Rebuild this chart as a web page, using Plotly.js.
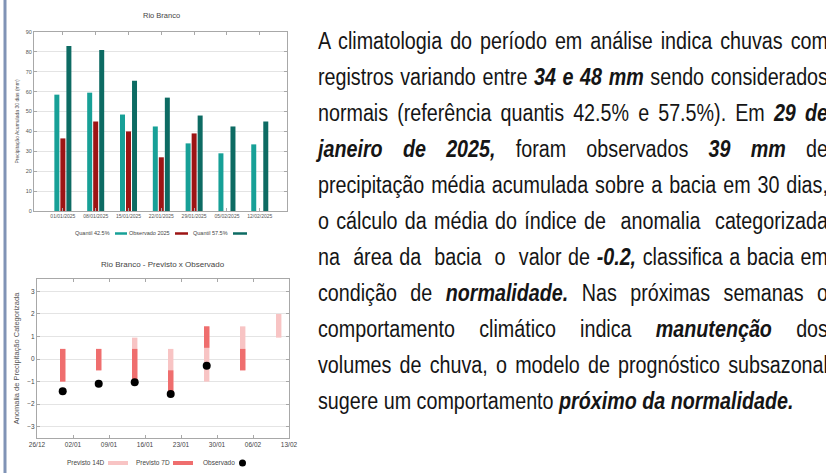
<!DOCTYPE html>
<html>
<head>
<meta charset="utf-8">
<script src="https://cdn.plot.ly/plotly-3.0.1.min.js"></script>
<style>
  html, body { margin: 0; padding: 0; background: #ffffff; width: 826px; height: 473px; overflow: hidden; }
  #chart { position: absolute; left: 0; top: 0; width: 826px; height: 473px; }
  #txt { position: absolute; left: 318px; top: 23px; width: 595px; transform: scaleX(0.857); transform-origin: 0 0;
         font-family: "Liberation Sans", Arial, sans-serif; font-size: 23px; line-height: 36px; color: #151515; }
  #txt div { text-align: justify; text-align-last: justify; white-space: nowrap; }
  #txt div.last { text-align: left; text-align-last: left; }
  #txt b { font-weight: bold; font-style: italic; }
</style>
</head>
<body>
<div id="chart"></div>
<div id="txt">
<div style="white-space:normal">A climatologia do período em análise indica chuvas com</div>
<div style="white-space:normal">registros variando entre <b>34 e 48 mm</b> sendo considerados</div>
<div style="white-space:normal">normais (referência quantis 42.5% e 57.5%). Em <b>29 de</b></div>
<div style="white-space:normal"><b>janeiro de 2025,</b> foram observados <b>39 mm</b> de</div>
<div style="white-space:normal">precipitação média acumulada sobre a bacia em 30 dias,</div>
<div style="white-space:normal">o cálculo da média do índice de&nbsp; anomalia&nbsp; categorizada</div>
<div style="white-space:normal">na&nbsp; área da&nbsp; bacia&nbsp; o&nbsp; valor de <b>-0.2,</b> classifica a bacia em</div>
<div style="white-space:normal">condição de <b>normalidade.</b> Nas próximas semanas o</div>
<div style="white-space:normal">comportamento climático indica <b>manutenção</b> dos</div>
<div style="white-space:normal">volumes de chuva, o modelo de prognóstico subsazonal</div>
<div class="last">sugere um comportamento <b>próximo da normalidade.</b></div>
</div>
<script>
// ---- Top chart data (Rio Branco) ----
const categories = ['01/01/2025','08/01/2025','15/01/2025','22/01/2025','29/01/2025','05/02/2025','12/02/2025'];
const quantil425 = [58.5, 59.5, 48.5, 42.5, 34, 29, 33.5];
const observado2025 = [36.5, 45, 40, 27, 39, null, null];
const quantil575 = [83, 81, 65.5, 57, 48, 42.5, 45];

// ---- Bottom chart data (Previsto x Observado) ----
const forecastDates = ['2024-12-31','2025-01-07','2025-01-14','2025-01-21','2025-01-28','2025-02-04','2025-02-11'];
const prev14Low  = [-1, -0.5, -1, -1.5, -1, -0.5, 0.95];
const prev14High = [0.45, 0.45, 0.95, 0.45, 1.45, 1.45, 2];
const prev7Low   = [-1, -0.5, -1, -1.5, 0.5, -0.5, null];
const prev7High  = [0.45, 0.45, 0.45, -0.5, 1.45, 0.45, null];
const observadoAnom = [-1.43, -1.1, -1.03, -1.55, -0.3, null, null];
const xTickDates = ['2024-12-26','2025-01-02','2025-01-09','2025-01-16','2025-01-23','2025-01-30','2025-02-06','2025-02-13'];
const xTickLabels = ['26/12','02/01','09/01','16/01','23/01','30/01','06/02','13/02'];

const W = 826, H = 473;
const px = v => v / W;
const py = v => 1 - v / H;
const FONT = '"Liberation Sans", Arial, sans-serif';
const C_TEAL = '#17a097', C_RED = '#9d1414', C_DARK = '#0d6b63';
const C_14 = '#f8c4c4', C_7 = '#ef6e6e';

const span = (lo, hi) => lo.map((l, i) => (l === null || hi[i] === null) ? null : hi[i] - l);
const DAY = 86400000;

const traces = [
  {type:'bar', x:categories, y:quantil425, name:'Quantil 42.5%', marker:{color:C_TEAL}, xaxis:'x', yaxis:'y', showlegend:false},
  {type:'bar', x:categories, y:observado2025, name:'Observado 2025', marker:{color:C_RED}, xaxis:'x', yaxis:'y', showlegend:false},
  {type:'bar', x:categories, y:quantil575, name:'Quantil 57.5%', marker:{color:C_DARK}, xaxis:'x', yaxis:'y', showlegend:false},
  {type:'bar', x:forecastDates, y:span(prev14Low, prev14High), base:prev14Low, width:DAY*1.05, offsetgroup:'f',
   name:'Previsto 14D', marker:{color:C_14}, xaxis:'x2', yaxis:'y2', showlegend:false},
  {type:'bar', x:forecastDates, y:span(prev7Low, prev7High), base:prev7Low, width:DAY*1.05, offsetgroup:'f',
   name:'Previsto 7D', marker:{color:C_7}, xaxis:'x2', yaxis:'y2', showlegend:false},
  {type:'scatter', mode:'markers', x:forecastDates, y:observadoAnom, name:'Observado',
   marker:{color:'#000', size:8}, xaxis:'x2', yaxis:'y2', showlegend:false}
];

const axBase = {showline:true, linecolor:'#a8a8a8', linewidth:1, mirror:'allticks', ticks:'inside', ticklen:3, tickcolor:'#a8a8a8', zeroline:false};

const ann = (x, y, text, size, opts) => Object.assign({xref:'paper', yref:'paper', x:px(x), y:py(y), text:text, showarrow:false,
  font:{family:FONT, size:size, color:'#444'}, xanchor:'center', yanchor:'middle'}, opts || {});

const layout = {
  width: W, height: H,
  margin: {l:0, r:0, t:0, b:0},
  paper_bgcolor:'#ffffff', plot_bgcolor:'#ffffff',
  font: {family: FONT, color:'#444'},
  barmode:'group', bargap:0.45, bargroupgap:0.17,
  xaxis: Object.assign({}, axBase, {type:'category', domain:[px(34), px(287)], anchor:'y', range:[-0.88, 6.83],
    showgrid:false, tickfont:{size:5, color:'#555'}}),
  yaxis: Object.assign({}, axBase, {domain:[py(211), py(32)], anchor:'x', range:[0, 90], dtick:10,
    showgrid:true, gridcolor:'#e4e4e4', tickfont:{size:5.5, color:'#555'},
    title:{text:'Precipitação Acumulada 30 dias (mm)', font:{size:5, color:'#555'}, standoff:6}}),
  xaxis2: Object.assign({}, axBase, {type:'date', domain:[px(37), px(289)], anchor:'y2', range:['2024-12-26','2025-02-13'],
    tickmode:'array', tickvals:xTickDates, ticktext:xTickLabels, showgrid:false, tickfont:{size:6.5, color:'#444'}}),
  yaxis2: Object.assign({}, axBase, {domain:[py(438), py(279)], anchor:'x2', range:[-3.5, 3.55], dtick:1,
    showgrid:true, gridcolor:'#e4e4e4', tickfont:{size:6.5, color:'#444'},
    title:{text:'Anomalia de Precipitação Categorizada', font:{size:7.5, color:'#555'}, standoff:6}}),
  shapes: [
    {type:'line', xref:'paper', yref:'paper', x0:px(5), x1:px(5), y0:0, y1:1, line:{color:'#8093b6', width:3}},
    {type:'line', xref:'paper', yref:'paper', x0:px(115), x1:px(127), y0:py(233.5), y1:py(233.5), line:{color:C_TEAL, width:2.5}},
    {type:'line', xref:'paper', yref:'paper', x0:px(175), x1:px(188), y0:py(233.5), y1:py(233.5), line:{color:C_RED, width:2.5}},
    {type:'line', xref:'paper', yref:'paper', x0:px(233), x1:px(247), y0:py(233.5), y1:py(233.5), line:{color:C_DARK, width:2.5}},
    {type:'line', xref:'paper', yref:'paper', x0:px(108), x1:px(128), y0:py(463), y1:py(463), line:{color:C_14, width:4}},
    {type:'line', xref:'paper', yref:'paper', x0:px(173), x1:px(193), y0:py(463), y1:py(463), line:{color:C_7, width:4}},
    {type:'circle', xref:'paper', yref:'paper', x0:px(239), x1:px(246), y0:py(466.5), y1:py(459.5), fillcolor:'#000', line:{width:0}}
  ],
  annotations: [
    ann(161, 15, 'Rio Branco', 7.5),
    ann(112, 233, 'Quantil 42.5%', 5.5, {xanchor:'right'}),
    ann(172, 233, 'Observado 2025', 5.5, {xanchor:'right'}),
    ann(230, 233, 'Quantil 57.5%', 5.5, {xanchor:'right'}),
    ann(163, 264, 'Rio Branco - Previsto x Observado', 8),
    ann(107, 462, 'Previsto 14D', 6.5, {xanchor:'right'}),
    ann(172, 462, 'Previsto 7D', 6.5, {xanchor:'right'}),
    ann(237, 462, 'Observado', 6.5, {xanchor:'right'})
  ]
};

Plotly.newPlot('chart', traces, layout, {staticPlot:true, displayModeBar:false});
</script>
</body>
</html>
